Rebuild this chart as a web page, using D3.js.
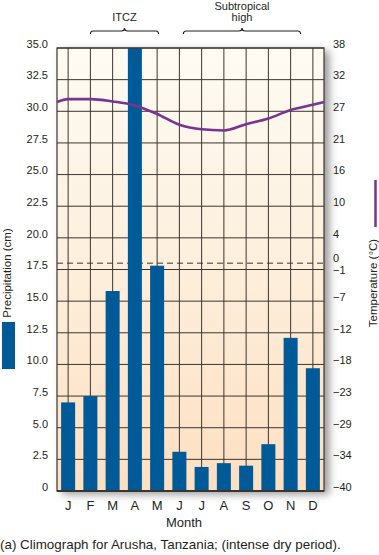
<!DOCTYPE html>
<html>
<head>
<meta charset="utf-8">
<script src="https://cdn.jsdelivr.net/npm/d3@7"></script>
<style>
  html, body { margin: 0; padding: 0; background: #ffffff; }
  svg { display: block; font-family: "Liberation Sans", Arial, Helvetica, sans-serif; }
</style>
</head>
<body>
<svg id="chart" width="379" height="555"></svg>
<script>
// ---- data ----
const months = ["J","F","M","A","M","J","J","A","S","O","N","D"];
const monthKeys = ["Jan","Feb","Mar","Apr","May","Jun","Jul","Aug","Sep","Oct","Nov","Dec"];
const precipitation = [7.0, 7.5, 15.8, 35.0, 17.8, 3.1, 1.9, 2.2, 2.0, 3.7, 12.1, 9.7]; // cm
const temperature = [28.8, 28.8, 28.4, 27.7, 26.2, 24.3, 23.5, 23.3, 24.4, 25.4, 26.9, 27.8]; // °C
const precipTicks = [0, 2.5, 5, 7.5, 10, 12.5, 15, 17.5, 20, 22.5, 25, 27.5, 30, 32.5, 35];
const precipTickLabels = ["0","2.5","5.0","7.5","10.0","12.5","15.0","17.5","20.0","22.5","25.0","27.5","30.0","32.5","35.0"];
const tempTickLabels = ["\u221240","\u221234","\u221229","\u221223","\u221218","\u221212","\u22127","\u22121","4","10","16","21","27","32","38"];
const freezingLabel = "0";
const annotations = [
  { lines: ["ITCZ"], from: "Feb", to: "May" },
  { lines: ["Subtropical", "high"], from: "Jun", to: "Nov" }
];
const xTitle = "Month";
const leftTitle = "Precipitation (cm)";
const rightTitle = "Temperature (\u00B0C)";
const caption = "(a) Climograph for Arusha, Tanzania; (intense dry period).";

// ---- layout ----
const svg = d3.select("#chart");
const L = 57, R = 324, T = 48, B = 491;
const textColor = "#231f20";
const gridColor = "#3b3530";
const barColor = "#005a97";
const lineColor = "#7a3391";

const x = d3.scaleBand().domain(monthKeys).range([L, R]).paddingInner(0.37).paddingOuter(0.185);
const xc = k => x(k) + x.bandwidth() / 2;
const y = d3.scaleLinear().domain([0, 35]).range([B, T]);
// temperature: right axis spans -40°F..100°F, i.e. -40°C..37.78°C
const yT = d3.scaleLinear().domain([-40, (100 - 32) * 5 / 9]).range([B, T]);

const defs = svg.append("defs");
const grad = defs.append("linearGradient").attr("id", "bg").attr("x1", 0).attr("y1", 0).attr("x2", 0).attr("y2", 1);
grad.append("stop").attr("offset", "0%").attr("stop-color", "#fefbf3");
grad.append("stop").attr("offset", "45%").attr("stop-color", "#fdf0de");
grad.append("stop").attr("offset", "100%").attr("stop-color", "#fddfc1");
const filt = defs.append("filter").attr("id", "shadow").attr("x", "-10%").attr("y", "-10%").attr("width", "130%").attr("height", "120%");
filt.append("feDropShadow").attr("dx", 5).attr("dy", 3).attr("stdDeviation", 4)
  .attr("flood-color", "#6e6e6e").attr("flood-opacity", 0.75);

// plot background
svg.append("rect").attr("x", L).attr("y", T).attr("width", R - L).attr("height", B - T)
  .attr("fill", "url(#bg)").attr("filter", "url(#shadow)");

// horizontal gridlines
svg.append("g").selectAll("line").data(precipTicks).join("line")
  .attr("x1", L).attr("x2", R).attr("y1", d => y(d)).attr("y2", d => y(d))
  .attr("stroke", gridColor).attr("stroke-width", 1);

// vertical gridlines at month centres
svg.append("g").selectAll("line").data(monthKeys).join("line")
  .attr("x1", d => xc(d)).attr("x2", d => xc(d)).attr("y1", T).attr("y2", B)
  .attr("stroke", gridColor).attr("stroke-width", 1);

// freezing dashed line (0 °C)
svg.append("line").attr("x1", L).attr("x2", R).attr("y1", yT(0)).attr("y2", yT(0))
  .attr("stroke", gridColor).attr("stroke-width", 1).attr("stroke-dasharray", "6,4");

// bars
svg.append("g").selectAll("rect").data(precipitation).join("rect")
  .attr("x", (d, i) => x(monthKeys[i])).attr("width", x.bandwidth())
  .attr("y", d => y(d)).attr("height", d => B - y(d))
  .attr("fill", barColor);

// frame
svg.append("rect").attr("x", L).attr("y", T).attr("width", R - L).attr("height", B - T)
  .attr("fill", "none").attr("stroke", gridColor).attr("stroke-width", 1.2);
svg.append("line").attr("x1", L).attr("x2", R).attr("y1", B).attr("y2", B)
  .attr("stroke", gridColor).attr("stroke-width", 2);

// temperature line: wraps Dec->Jan at the plot edges
const wrap = (temperature[0] + temperature[11]) / 2;
const linePts = [[L, wrap]].concat(temperature.map((t, i) => [xc(monthKeys[i]), t])).concat([[R, wrap]]);
svg.append("path").datum(linePts)
  .attr("d", d3.line().x(d => d[0]).y(d => yT(d[1])).curve(d3.curveMonotoneX))
  .attr("fill", "none").attr("stroke", lineColor).attr("stroke-width", 2.6);

// left axis labels
svg.append("g").selectAll("text").data(precipTicks).join("text")
  .attr("x", 48).attr("y", d => y(d) - 4).attr("dy", "0.35em")
  .attr("text-anchor", "end").attr("font-size", 11).attr("fill", textColor)
  .text((d, i) => precipTickLabels[i]);

// right axis labels
svg.append("g").selectAll("text").data(precipTicks).join("text")
  .attr("x", 333).attr("y", (d, i) => y(d) + (tempTickLabels[i] === "\u22121" ? 1 : -4)).attr("dy", "0.35em")
  .attr("text-anchor", "start").attr("font-size", 11).attr("fill", textColor)
  .text((d, i) => tempTickLabels[i]);
svg.append("text").attr("x", 333).attr("y", yT(0) - 5).attr("dy", "0.35em")
  .attr("font-size", 11).attr("fill", textColor).text(freezingLabel);

// month labels
svg.append("g").selectAll("text").data(monthKeys).join("text")
  .attr("x", d => xc(d)).attr("y", 505).attr("dy", "0.35em")
  .attr("text-anchor", "middle").attr("font-size", 13).attr("fill", textColor)
  .text((d, i) => months[i]);

svg.append("text").attr("x", 184).attr("y", 527).attr("text-anchor", "middle")
  .attr("font-size", 13).attr("fill", textColor).text(xTitle);
svg.append("text").attr("x", 0).attr("y", 549).attr("text-anchor", "start")
  .attr("font-size", 13.4).attr("fill", textColor).text(caption);

// left title + legend swatch
svg.append("text").attr("transform", "translate(10.5,273) rotate(-90)")
  .attr("text-anchor", "middle").attr("font-size", 11.5).attr("fill", textColor).text(leftTitle);
svg.append("rect").attr("x", 2).attr("y", 322).attr("width", 13).attr("height", 47).attr("fill", barColor);

// right title + legend swatch
svg.append("text").attr("transform", "translate(377,283) rotate(-90)")
  .attr("text-anchor", "middle").attr("font-size", 11.5).attr("fill", textColor).text(rightTitle);
svg.append("line").attr("x1", 375.5).attr("x2", 375.5).attr("y1", 180).attr("y2", 227)
  .attr("stroke", lineColor).attr("stroke-width", 2.5);

// annotation brackets
const by = 31;
annotations.forEach((a, ai) => {
  const x0 = ai === 0 ? xc(a.from) : xc(a.from) + 4;
  const x1 = ai === 0 ? xc(a.to) + 1.5 : xc(a.to) + 10;
  const xm = (x0 + x1) / 2;
  const p = d3.path();
  p.moveTo(x0, by + 3);
  p.quadraticCurveTo(x0, by, x0 + 3, by);
  p.lineTo(xm - 3, by);
  p.quadraticCurveTo(xm, by, xm, by - 3);
  p.quadraticCurveTo(xm, by, xm + 3, by);
  p.lineTo(x1 - 3, by);
  p.quadraticCurveTo(x1, by, x1, by + 3);
  svg.append("path").attr("d", p.toString()).attr("fill", "none")
    .attr("stroke", textColor).attr("stroke-width", 1.1);
  const n = a.lines.length;
  a.lines.forEach((ln, li) => {
    svg.append("text").attr("x", xm).attr("y", 20.5 - (n - 1 - li) * 11)
      .attr("text-anchor", "middle").attr("font-size", 11).attr("fill", textColor).text(ln);
  });
});
</script>
</body>
</html>
